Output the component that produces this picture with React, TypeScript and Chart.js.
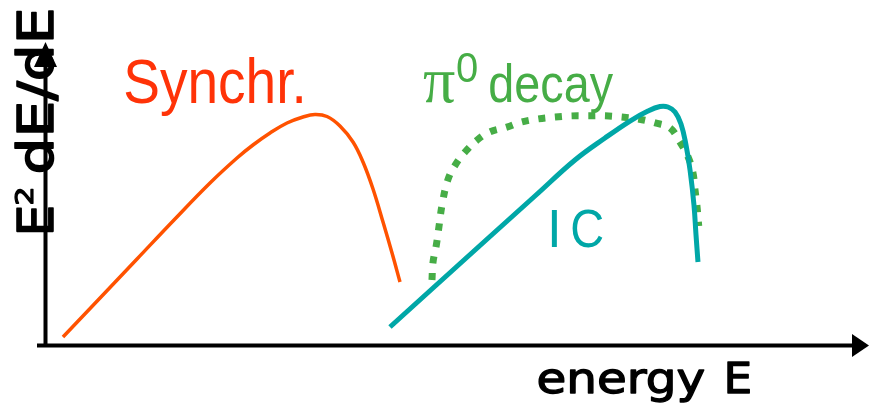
import React, { useEffect, useRef } from "react";
import { Chart, registerables } from "chart.js";

Chart.register(...registerables);

// Schematic spectral energy distribution (arbitrary units: energy 0..100, E^2 dF/dE 0..100)
const synchrE = [2.07, 6.59, 11.1, 15.61, 20.0, 23.29, 25.24, 27.32, 29.39, 31.34, 32.8, 34.27, 35.85, 37.44, 38.66, 39.88, 41.1, 42.2, 43.17];
const synchrF = [2.96, 15.79, 28.62, 41.45, 53.62, 61.84, 66.12, 70.07, 73.36, 75.33, 76.15, 75.49, 72.37, 67.11, 60.53, 51.64, 40.79, 30.59, 21.05];

const icE = [41.95, 47.2, 53.54, 59.63, 64.51, 68.17, 71.22, 73.41, 74.88, 75.85, 76.71, 77.44, 78.05, 78.54, 79.02, 79.27, 79.51];
const icF = [6.25, 19.08, 34.54, 49.34, 61.18, 68.42, 74.01, 77.3, 78.78, 78.62, 76.97, 73.03, 66.12, 57.89, 46.38, 36.51, 27.63];

const piE = [47.07, 47.2, 47.6, 47.9, 48.3, 49.0, 49.9, 51.1, 52.6, 54.1, 56.2, 58.0, 60.0, 62.1, 64.1, 66.1, 68.2, 70.2, 72.2, 74.3, 76.1, 77.3, 78.3, 78.9, 79.15, 79.4, 79.6];
const piF = [21.7, 27.6, 33.2, 38.8, 46.4, 54.6, 59.5, 63.8, 67.8, 70.4, 72.0, 73.7, 74.7, 75.3, 75.7, 75.7, 75.7, 75.3, 74.7, 73.4, 71.7, 67.1, 62.2, 56.9, 51.3, 45.7, 39.5];

const labelSynchr = "Synchr.";
const labelPi = "\u03c0";
const labelPiSup = "0";
const labelDecay = "decay";
const labelIC1 = "I";
const labelIC2 = "C";
const labelX1 = "energy";
const labelX2 = "E";
const labelY1 = "E";
const labelY2 = "2";
const labelY3 = "dE/dE";

const COL_SYN_TEXT = "#ff3308";
const COL_SYN = "#ff5200";
const COL_PI = "#46ad46";
const COL_IC = "#00a7a7";

function toXY(xs: number[], ys: number[]) {
  return xs.map((x, i) => ({ x, y: ys[i] }));
}

function drawFit(
  ctx: CanvasRenderingContext2D,
  text: string,
  font: string,
  color: string,
  inkLeft: number,
  baseline: number,
  inkWidth: number,
  strokeW = 0
) {
  ctx.save();
  ctx.font = font;
  ctx.textAlign = "left";
  ctx.textBaseline = "alphabetic";
  const m = ctx.measureText(text);
  const w = m.actualBoundingBoxLeft + m.actualBoundingBoxRight + strokeW;
  const sx = w > 0 ? inkWidth / w : 1;
  ctx.translate(inkLeft, baseline);
  ctx.scale(sx, 1);
  ctx.fillStyle = color;
  ctx.fillText(text, m.actualBoundingBoxLeft + strokeW / 2, 0);
  if (strokeW > 0) {
    ctx.strokeStyle = color;
    ctx.lineWidth = strokeW;
    ctx.lineJoin = "round";
    ctx.strokeText(text, m.actualBoundingBoxLeft + strokeW / 2, 0);
  }
  ctx.restore();
}

const decorPlugin = {
  id: "decor",
  beforeDatasetsDraw(chart: any) {
    const ctx: CanvasRenderingContext2D = chart.ctx;
    const a = chart.chartArea;
    ctx.save();
    // Axes
    ctx.strokeStyle = "#000";
    ctx.fillStyle = "#000";
    ctx.lineWidth = 4;
    ctx.beginPath();
    ctx.moveTo(a.left - 0.5, a.bottom + 1);
    ctx.lineTo(a.left - 0.5, a.top + 18);
    ctx.stroke();
    ctx.beginPath();
    ctx.moveTo(a.left - 9, a.bottom - 0.5);
    ctx.lineTo(a.right - 12, a.bottom - 0.5);
    ctx.stroke();
    // arrow heads
    ctx.beginPath();
    ctx.moveTo(a.left - 0.5, a.top);
    ctx.lineTo(a.left + 11, a.top + 25);
    ctx.lineTo(a.left - 12, a.top + 25);
    ctx.closePath();
    ctx.fill();
    ctx.beginPath();
    ctx.moveTo(a.right + 3, a.bottom - 0.5);
    ctx.lineTo(a.right - 14, a.bottom - 12);
    ctx.lineTo(a.right - 14, a.bottom + 11);
    ctx.closePath();
    ctx.fill();

    // Labels
    const sans = '"Liberation Sans", Arial, sans-serif';
    const black = '"DejaVu Sans", sans-serif';
    drawFit(ctx, labelSynchr, `63px ${sans}`, COL_SYN_TEXT, 125, 103, 177);
    drawFit(ctx, labelPi, `66px "Liberation Serif", "DejaVu Serif", serif`, COL_PI, 423, 102, 32);
    drawFit(ctx, labelPiSup, `42px ${sans}`, COL_PI, 457, 82, 20);
    drawFit(ctx, labelDecay, `54px ${sans}`, COL_PI, 490, 102, 123);
    drawFit(ctx, labelIC1, `53px ${sans}`, COL_IC, 551, 247, 6);
    drawFit(ctx, labelIC2, `53px ${sans}`, COL_IC, 572, 247, 31);
    drawFit(ctx, labelX1, `42px ${black}`, "#000", 538, 393, 167, 1.3);
    drawFit(ctx, labelX2, `42px ${black}`, "#000", 727, 393, 23, 1.3);

    ctx.save();
    ctx.translate(53, 233);
    ctx.rotate(-Math.PI / 2);
    drawFit(ctx, labelY1, `49px ${black}`, "#000", 0, 0, 26, 1.6);
    drawFit(ctx, labelY2, `25px ${black}`, "#000", 28, -20, 17, 1.2);
    drawFit(ctx, labelY3, `49px ${black}`, "#000", 60, 0, 163, 1.6);
    ctx.restore();

    ctx.restore();
  },
};

export default function App() {
  const ref = useRef<HTMLCanvasElement | null>(null);
  useEffect(() => {
    if (!ref.current) return;
    const chart = new Chart(ref.current, {
      type: "line",
      data: {
        datasets: [
          {
            label: "IC",
            data: toXY(icE, icF),
            borderColor: COL_IC,
            borderWidth: 5,
            order: 0,
          },
          {
            label: "pi0 decay",
            data: toXY(piE, piF),
            borderColor: COL_PI,
            borderWidth: 7,
            borderDash: [7, 9.7],
            borderCapStyle: "butt",
            order: 1,
          },
          {
            label: "Synchr.",
            data: toXY(synchrE, synchrF),
            borderColor: COL_SYN,
            borderWidth: 3.5,
            order: 2,
          },
        ] as any,
      },
      options: {
        animation: false,
        responsive: false,
        maintainAspectRatio: false,
        layout: { padding: { left: 46, top: 42, right: 4, bottom: 59 } },
        elements: {
          point: { radius: 0, hoverRadius: 0 },
          line: { tension: 0.4, fill: false },
        },
        plugins: { legend: { display: false }, tooltip: { enabled: false }, title: { display: false } },
        events: [],
        scales: {
          x: { type: "linear", min: 0, max: 100, display: false },
          y: { type: "linear", min: 0, max: 100, display: false },
        },
      },
      plugins: [decorPlugin],
    });
    return () => chart.destroy();
  }, []);
  return (
    <div style={{ position: "absolute", left: 0, top: 0, width: 870, height: 405, background: "#fff" }}>
      <canvas ref={ref} width={870} height={405} style={{ display: "block" }} />
    </div>
  );
}
